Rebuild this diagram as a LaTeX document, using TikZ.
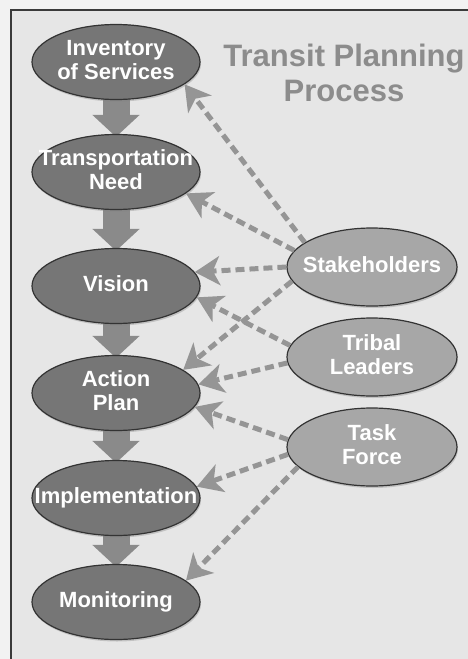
\documentclass[tikz,border=0pt]{standalone}
\usepackage{fontspec}
\setmainfont{Liberation Sans}
\usepackage{xcolor}
\usetikzlibrary{positioning,shapes,arrows.meta,backgrounds,shadows}
\definecolor{framegray}{HTML}{3A3A3A}
\definecolor{panelgray}{HTML}{E6E6E6}
\definecolor{phasegray}{HTML}{767676}
\definecolor{partygray}{HTML}{A7A7A7}
\definecolor{arrowgray}{HTML}{8A8A8A}
\definecolor{dashgray}{HTML}{959595}
\definecolor{titlegray}{HTML}{8C8C8C}
\newcommand{\elltext}[1]{\raisebox{-.25em}[0pt][0pt]{\makebox[0pt]{\begin{tabular}{@{}c@{}}#1\end{tabular}}}}

\begin{document}
\begin{tikzpicture}[x=1pt,y=-1pt,
    phase node/.style={ellipse,draw=black!80,line width=1.2pt,fill=phasegray,text=white,
      minimum width=168pt,minimum height=75pt,inner sep=0pt,
      font=\bfseries\fontsize{22}{24}\selectfont,
      drop shadow={shadow xshift=1pt,shadow yshift=-2pt,opacity=.35}},
    party node/.style={phase node,fill=partygray,minimum width=170pt,minimum height=78pt},
    flow/.style={draw=arrowgray,line width=27pt,-{Triangle[length=22pt,width=46pt]}},
    input/.style={draw=dashgray,line width=5pt,dash pattern=on 9pt off 5pt,
      -{Stealth[length=25pt,width=29pt,inset=7pt]}}]

    \useasboundingbox (0,0) rectangle (468,659);

    % planning phases
    \node[phase node] (inv)  at (116,62)  {\elltext{Inventory\\of Services}};
    \node[phase node] (need) at (116,172) {\elltext{Transportation\\Need}};
    \node[phase node] (vis)  at (116,286) {\elltext{Vision}};
    \node[phase node] (act)  at (116,393) {\elltext{Action\\Plan}};
    \node[phase node] (imp)  at (116,498) {\elltext{Implementation}};
    \node[phase node] (mon)  at (116,602) {\elltext{Monitoring}};

    % participants
    \node[party node] (sh) at (372,267) {\elltext{Stakeholders}};
    \node[party node] (tl) at (372,357) {\elltext{Tribal\\Leaders}};
    \node[party node] (tf) at (372,447) {\elltext{Task\\Force}};

    \node[font=\bfseries\fontsize{31}{35}\selectfont,text=titlegray,align=center]
      (title) at (344,73) {Transit Planning\\Process};

    \begin{pgfonlayer}{background}
      \fill[white!95!black] (0,0) rectangle (468,659);
      \draw[fill=panelgray,draw=framegray,line width=2pt] (11,10) rectangle (480,675);
      \draw[flow,shorten >=-3pt] (inv.center)  -- (need.north);
      \draw[flow,shorten >=-3pt] (need.center) -- (vis.north);
      \draw[flow,shorten >=-3pt] (vis.center)  -- (act.north);
      \draw[flow,shorten >=-3pt] (act.center)  -- (imp.north);
      \draw[flow,shorten >=-3pt] (imp.center)  -- (mon.north);
    \end{pgfonlayer}

    \draw[input] (sh.160) -- (inv.-18);
    \draw[input] (sh.168) -- (need.-17);
    \draw[input] (sh.180) -- (vis.10);
    \draw[input] (sh.190) -- (act.19);
    \draw[input] (tl.172) -- (vis.-8);
    \draw[input] (tl.184) -- (act.6);
    \draw[input] (tf.175) -- (act.-10);
    \draw[input] (tf.185) -- (imp.8);
    \draw[input] (tf.195) -- (mon.17);
\end{tikzpicture}
\end{document}
